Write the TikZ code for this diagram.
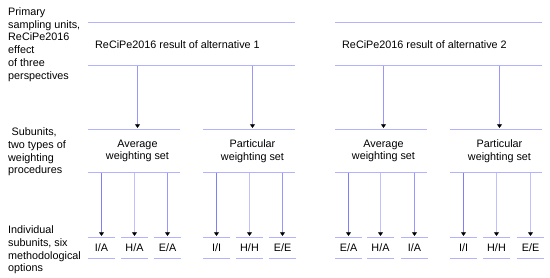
\documentclass[tikz,border=0pt]{standalone}
\usepackage{fontspec}
\setmainfont{Liberation Sans}
\usetikzlibrary{arrows.meta,calc}
\definecolor{rulec}{RGB}{178,178,255}
\definecolor{arrdark}{RGB}{128,128,240}
\definecolor{arrmid}{RGB}{152,152,250}
\definecolor{arrlight}{RGB}{192,192,255}
\tikzset{
  lbl/.style   ={font=\fontsize{10.8}{12.7}\selectfont, inner sep=0pt, align=left},
  grptxt/.style={lbl, align=center},
  band/.style  ={inner sep=0pt, minimum width=207pt, minimum height=43pt},
  grp/.style   ={inner sep=0pt, minimum width=92pt, minimum height=43pt},
  leaf/.style  ={inner sep=0pt, minimum width=27pt, minimum height=21pt,
                 font=\fontsize{10.8}{12.7}\selectfont},
  rule/.style  ={draw=rulec, line width=1pt},
  fl/.style    ={-{Triangle[length=3.6pt,width=5pt,color=black]},
                 line width=1.4pt, shorten >=1.4pt},
}

\begin{document}
\begin{tikzpicture}[x=1pt,y=-1pt]
  \useasboundingbox (0,0) rectangle (550,278);

  % row labels on the left
  \node[lbl, anchor=west] (rowA) at (8,44.5)
        {Primary\\ sampling units,\\ ReCiPe2016\\ effect\\ of three\\ perspectives};
  \node[lbl, anchor=west] (rowB) at (8,152)
        {\hspace{3.5pt}Subunits,\\ two types of\\ weighting\\ procedures};
  \node[lbl, anchor=west] (rowC) at (8,250)
        {Individual\\ subunits, six\\ methodological\\ options};

  % primary sampling units
  \node[band] (alt1) at (191.5,44) {};
  \node[band] (alt2) at (438.5,44) {};
  \node[lbl, anchor=west] (alt1t) at (95,45)  {ReCiPe2016 result of alternative 1};
  \node[lbl, anchor=west] (alt2t) at (342,45) {ReCiPe2016 result of alternative 2};

  % subunits
  \node[grp] (avg1) at (134,151) {};
  \node[grp] (par1) at (249,151) {};
  \node[grp] (avg2) at (381,151) {};
  \node[grp] (par2) at (496,151) {};
  \node[grptxt] (avg1t) at (137.5,151) {Average\\ weighting set};
  \node[grptxt] (par1t) at (252.5,151) {Particular\\ weighting set};
  \node[grptxt] (avg2t) at (383.5,151) {Average\\ weighting set};
  \node[grptxt] (par2t) at (499.5,151) {Particular\\ weighting set};

  % individual subunits
  \node[leaf] (l1)  at (101.5,248) {I/A};
  \node[leaf] (l2)  at (134.5,248) {H/A};
  \node[leaf] (l3)  at (167.5,248) {E/A};
  \node[leaf] (l4)  at (216.5,248) {I/I};
  \node[leaf] (l5)  at (249.5,248) {H/H};
  \node[leaf] (l6)  at (282.5,248) {E/E};
  \node[leaf] (l7)  at (348.5,248) {E/A};
  \node[leaf] (l8)  at (380.5,248) {H/A};
  \node[leaf] (l9)  at (414.5,248) {I/A};
  \node[leaf] (l10) at (463.5,248) {I/I};
  \node[leaf] (l11) at (496.5,248) {H/H};
  \node[leaf] (l12) at (530.5,248) {E/E};

  % rules above and below every unit
  \foreach \n in {alt1,alt2,avg1,par1,avg2,par2,l1,l2,l3,l4,l5,l6,l7,l8,l9,l10,l11,l12}
    \draw[rule] (\n.north west) -- (\n.north east) (\n.south west) -- (\n.south east);

  % arrows
  \draw[fl, draw=arrmid] (avg1t |- alt1.south) -- (avg1t |- avg1.north);
  \draw[fl, draw=arrmid] (par1t |- alt1.south) -- (par1t |- par1.north);
  \draw[fl, draw=arrmid] (avg2t |- alt2.south) -- (avg2t |- avg2.north);
  \draw[fl, draw=arrmid] (par2t |- alt2.south) -- (par2t |- par2.north);

  \draw[fl, draw=arrdark]  (l1 |- avg1.south)  -- (l1.north);
  \draw[fl, draw=arrlight] (l2 |- avg1.south)  -- (l2.north);
  \draw[fl, draw=arrmid]   (l3 |- avg1.south)  -- (l3.north);
  \draw[fl, draw=arrdark]  (l4 |- par1.south)  -- (l4.north);
  \draw[fl, draw=arrlight] (l5 |- par1.south)  -- (l5.north);
  \draw[fl, draw=arrmid]   (l6 |- par1.south)  -- (l6.north);
  \draw[fl, draw=arrdark]  (l7 |- avg2.south)  -- (l7.north);
  \draw[fl, draw=arrlight] (l8 |- avg2.south)  -- (l8.north);
  \draw[fl, draw=arrmid]   (l9 |- avg2.south)  -- (l9.north);
  \draw[fl, draw=arrdark]  (l10 |- par2.south) -- (l10.north);
  \draw[fl, draw=arrlight] (l11 |- par2.south) -- (l11.north);
  \draw[fl, draw=arrlight] (l12 |- par2.south) -- (l12.north);
\end{tikzpicture}
\end{document}
